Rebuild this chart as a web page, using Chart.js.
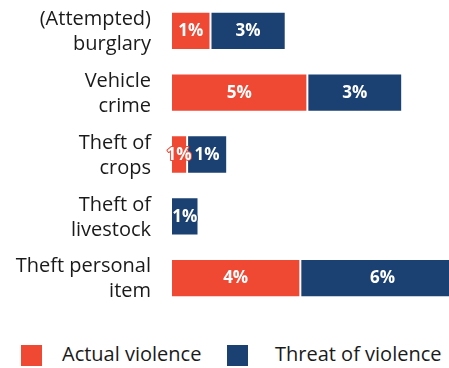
<!DOCTYPE html>
<html>
<head>
<meta charset="utf-8">
<script src="https://cdn.jsdelivr.net/npm/chart.js@4.4.0/dist/chart.umd.min.js"></script>
<style>
  body { margin: 0; background: #fff; font-family: 'Open Sans', sans-serif; }
  #wrap { position: relative; width: 449px; height: 368px; overflow: hidden; }
  #chartBox { position: absolute; left: 0; top: 0; width: 449px; height: 309px; }
  .swatch { position: absolute; top: 345px; width: 21px; height: 21px; }
  .legend-text { position: absolute; top: 341px; font-size: 20px; line-height: 26px; color: #1a1a1a; white-space: nowrap; }
</style>
</head>
<body>
<div id="wrap">
  <div id="chartBox"><canvas id="crimeChart"></canvas></div>
  <div id="legend"></div>
</div>
<script>
// categories (two-line tick labels)
const categories = [
  ['(Attempted)', 'burglary'],
  ['Vehicle', 'crime'],
  ['Theft of', 'crops'],
  ['Theft of', 'livestock'],
  ['Theft personal', 'item']
];

// share of respondents, %
const actualViolence = [1.35, 4.66, 0.55, 0, 4.42];
const threatOfViolence = [2.57, 3.24, 1.37, 0.94, 5.62];

const seriesNames = ['Actual violence', 'Threat of violence'];
const seriesColors = ['#EF4934', '#1B4172'];

// white percentage labels centred in each segment
const barLabels = {
  id: 'barLabels',
  afterDatasetsDraw(chart) {
    const ctx = chart.ctx;
    ctx.save();
    ctx.font = 'bold 17px "Open Sans"';
    ctx.textAlign = 'center';
    ctx.textBaseline = 'middle';
    ctx.lineJoin = 'round';
    chart.data.datasets.forEach((ds, i) => {
      chart.getDatasetMeta(i).data.forEach((bar, j) => {
        const v = ds.data[j];
        if (!v) return;
        const text = Math.round(v) + '%';
        const x = (bar.x + bar.base) / 2;
        ctx.lineWidth = 2;
        ctx.strokeStyle = ds.backgroundColor;
        ctx.strokeText(text, x, bar.y + 0.5);
        ctx.fillStyle = '#fff';
        ctx.fillText(text, x, bar.y + 0.5);
      });
    });
    ctx.restore();
  }
};

const chart = new Chart(document.getElementById('crimeChart'), {
  type: 'bar',
  data: {
    labels: categories,
    datasets: [
      { label: seriesNames[0], data: actualViolence, backgroundColor: seriesColors[0] },
      { label: seriesNames[1], data: threatOfViolence, backgroundColor: seriesColors[1] }
    ].map(ds => Object.assign(ds, {
      borderColor: '#fff',
      borderWidth: 1,
      borderSkipped: false,
      barPercentage: 1,
      categoryPercentage: 0.62
    }))
  },
  options: {
    indexAxis: 'y',
    responsive: true,
    maintainAspectRatio: false,
    animation: false,
    layout: { padding: 0 },
    plugins: {
      legend: { display: false },
      tooltip: { enabled: false }
    },
    scales: {
      x: { stacked: true, display: false, min: 0, max: 9.5 },
      y: {
        stacked: true,
        grid: { display: false, drawTicks: false },
        border: { display: false },
        ticks: {
          color: '#1a1a1a',
          font: { family: 'Open Sans', size: 20, lineHeight: 1.25 },
          padding: 20,
          labelOffset: 1
        },
        afterFit(scale) {
          scale.width = 171;
          scale.paddingTop = 0;
          scale.paddingBottom = 0;
        }
      }
    }
  },
  plugins: [barLabels]
});

// legend below the plot
const legend = document.getElementById('legend');
const swatchLeft = [21, 227];
const textLeft = [62, 275];
chart.data.datasets.forEach((ds, i) => {
  const sw = document.createElement('div');
  sw.className = 'swatch';
  sw.style.left = swatchLeft[i] + 'px';
  sw.style.background = ds.backgroundColor;
  const tx = document.createElement('div');
  tx.className = 'legend-text';
  tx.style.left = textLeft[i] + 'px';
  tx.textContent = ds.label;
  legend.appendChild(sw);
  legend.appendChild(tx);
});
</script>
</body>
</html>
